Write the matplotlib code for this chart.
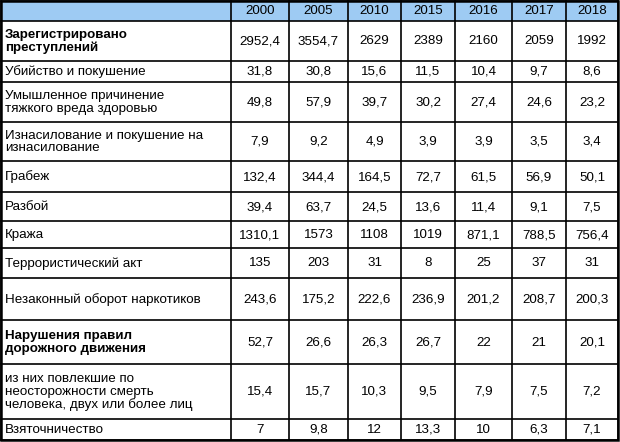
import matplotlib
matplotlib.use("Agg")
import matplotlib.pyplot as plt
from matplotlib.patches import Rectangle

years = ["2000", "2005", "2010", "2015", "2016", "2017", "2018"]
row_labels = [
    "Зарегистрировано\nпреступлений",
    "Убийство и покушение",
    "Умышленное причинение\nтяжкого вреда здоровью",
    "Изнасилование и покушение на\nизнасилование",
    "Грабеж",
    "Разбой",
    "Кража",
    "Террористический акт",
    "Незаконный оборот наркотиков",
    "Нарушения правил\nдорожного движения",
    "из них повлекшие по\nнеосторожности смерть\nчеловека, двух или более лиц",
    "Взяточничество",
]
bold_rows = [0, 9]
values = [
    ["2952,4", "3554,7", "2629", "2389", "2160", "2059", "1992"],
    ["31,8", "30,8", "15,6", "11,5", "10,4", "9,7", "8,6"],
    ["49,8", "57,9", "39,7", "30,2", "27,4", "24,6", "23,2"],
    ["7,9", "9,2", "4,9", "3,9", "3,9", "3,5", "3,4"],
    ["132,4", "344,4", "164,5", "72,7", "61,5", "56,9", "50,1"],
    ["39,4", "63,7", "24,5", "13,6", "11,4", "9,1", "7,5"],
    ["1310,1", "1573", "1108", "1019", "871,1", "788,5", "756,4"],
    ["135", "203", "31", "8", "25", "37", "31"],
    ["243,6", "175,2", "222,6", "236,9", "201,2", "208,7", "200,3"],
    ["52,7", "26,6", "26,3", "26,7", "22", "21", "20,1"],
    ["15,4", "15,7", "10,3", "9,5", "7,9", "7,5", "7,2"],
    ["7", "9,8", "12", "13,3", "10", "6,3", "7,1"],
]

W, H = 620, 442
xb = [1, 231, 289, 348, 401, 455, 512, 566, 618]
yb = [1, 21, 61, 82, 122, 161, 192, 221, 248, 278, 320, 364, 419, 440]

fig = plt.figure(figsize=(6.2, 4.42), dpi=100)
ax = fig.add_axes([0, 0, 1, 1])
ax.set_xlim(0, W)
ax.set_ylim(H, 0)
ax.axis("off")
fs = 9.6
fam = "Liberation Sans"

ax.add_patch(Rectangle((xb[0], yb[0]), xb[-1] - xb[0], yb[1] - yb[0],
                       facecolor="#9ecbf3", edgecolor="none"))
for j, yr in enumerate(years):
    ax.text((xb[j + 1] + xb[j + 2]) / 2, (yb[0] + yb[1]) / 2 + 0.5, yr,
            ha="center", va="center", fontsize=fs, family=fam)
for i, lab in enumerate(row_labels):
    y0, y1 = yb[i + 1], yb[i + 2]
    yc = (y0 + y1) / 2 + 0.5
    ax.text(xb[0] + 4, yc, lab, ha="left", va="center", fontsize=fs,
            family=fam, linespacing=1.05,
            fontweight="bold" if i in bold_rows else "normal")
    for j, v in enumerate(values[i]):
        ax.text((xb[j + 1] + xb[j + 2]) / 2, yc, v, ha="center", va="center",
                fontsize=fs, family=fam)

for y in yb:
    ax.plot([xb[0], xb[-1]], [y, y], color="black", lw=1.2, solid_capstyle="projecting")
for x in xb:
    ax.plot([x, x], [yb[0], yb[-1]], color="black", lw=1.2, solid_capstyle="projecting")
ax.add_patch(Rectangle((xb[0], yb[0]), xb[-1] - xb[0], yb[-1] - yb[0],
                       fill=False, edgecolor="black", lw=1.8))

fig.savefig("out.png", dpi=100)
